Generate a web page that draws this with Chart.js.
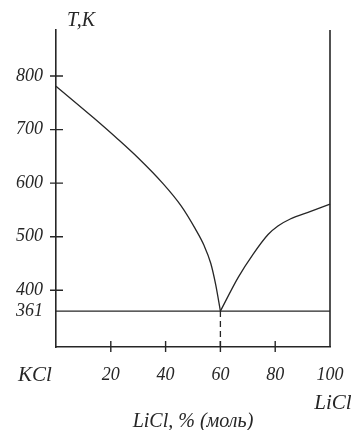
<!DOCTYPE html>
<html>
<head>
<meta charset="utf-8">
<script src="https://cdn.jsdelivr.net/npm/chart.js@4/dist/chart.umd.min.js"></script>
<style>
  html, body { margin: 0; padding: 0; background: #fff; }
  #wrap { width: 351px; height: 430px; position: relative; }
</style>
</head>
<body>
<div id="wrap"><canvas id="phaseChart"></canvas></div>
<script>
// KCl - LiCl phase diagram
const kclBranchX = [0, 13.7, 22.6, 30.2, 38.9, 45.6, 50.8, 54, 56.5, 58.3, 60];
const kclBranchT = [781, 722, 682, 646, 600, 558, 515, 484, 450, 410, 361];
const liclBranchX = [60, 66.5, 71.9, 77.4, 81, 85.5, 92.7, 100];
const liclBranchT = [361, 424, 467, 504, 520, 533, 547, 561];
const eutecticX = 60;
const eutecticT = 361;
const yTicks = [361, 400, 500, 600, 700, 800];
const xTicks = [20, 40, 60, 80, 100];

const tMin = 294;
const tMax = 886;
const ink = '#262626';
const serif = "'Liberation Serif', 'DejaVu Serif', serif";

function toPoints(xs, ys) {
  return xs.map((v, i) => ({ x: v, y: ys[i] }));
}

// tick marks crossing the axes + loose labels
const decor = {
  id: 'decor',
  afterDraw(chart) {
    const { ctx, scales: { x, y } } = chart;
    ctx.save();
    ctx.strokeStyle = ink;
    ctx.lineWidth = 1.4;
    ctx.beginPath();
    yTicks.forEach(v => {
      if (v === eutecticT) return;
      const py = y.getPixelForValue(v);
      ctx.moveTo(x.left - 6, py);
      ctx.lineTo(x.left + 7, py);
    });
    xTicks.forEach(v => {
      if (v === 100) return;
      const px = x.getPixelForValue(v);
      ctx.moveTo(px, y.bottom - 6);
      ctx.lineTo(px, y.bottom + 5);
    });
    ctx.stroke();

    ctx.fillStyle = ink;
    ctx.textBaseline = 'middle';
    ctx.font = 'italic 21px ' + serif;
    ctx.textAlign = 'center';
    ctx.fillText('KCl', x.left - 21, y.bottom + 28);
    ctx.fillText('LiCl', x.right + 3, y.bottom + 56);
    ctx.font = 'italic 20px ' + serif;
    ctx.textAlign = 'left';
    ctx.fillText('T,K', x.left + 11, y.top - 9);
    ctx.restore();
  }
};

const lineStyle = {
  borderColor: ink,
  borderWidth: 1.3,
  pointRadius: 0,
  fill: false,
  clip: false
};

const config = {
  type: 'line',
  data: {
    datasets: [
      Object.assign({ label: 'KCl liquidus', data: toPoints(kclBranchX, kclBranchT), cubicInterpolationMode: 'monotone' }, lineStyle),
      Object.assign({ label: 'LiCl liquidus', data: toPoints(liclBranchX, liclBranchT), cubicInterpolationMode: 'monotone' }, lineStyle),
      Object.assign({ label: 'Solidus', data: [{ x: 0, y: eutecticT }, { x: 100, y: eutecticT }] }, lineStyle),
      Object.assign({ label: 'Eutectic', data: [{ x: eutecticX, y: eutecticT }, { x: eutecticX, y: tMin }], borderDash: [6, 4] }, lineStyle),
      Object.assign({ label: 'LiCl axis', data: [{ x: 100, y: tMin }, { x: 100, y: tMax }] }, lineStyle, { borderWidth: 1.6 })
    ]
  },
  options: {
    responsive: true,
    maintainAspectRatio: false,
    animation: false,
    layout: { padding: { top: 30, right: 21, left: 0, bottom: 0 } },
    plugins: {
      legend: { display: false },
      tooltip: { enabled: false }
    },
    scales: {
      x: {
        type: 'linear',
        min: 0,
        max: 100,
        afterBuildTicks: scale => { scale.ticks = xTicks.map(v => ({ value: v })); },
        afterFit: scale => {
          scale.height = 83;
          scale.paddingLeft = 0;
          scale.paddingRight = 0;
        },
        grid: { display: false, drawTicks: false },
        border: { display: true, color: ink, width: 1.6 },
        ticks: {
          color: ink,
          padding: 17,
          maxRotation: 0,
          font: { family: serif, style: 'italic', size: 18 },
          callback: v => String(v)
        },
        title: {
          display: true,
          text: 'LiCl, % (моль)',
          color: ink,
          font: { family: serif, style: 'italic', size: 20, lineHeight: 0.8 },
          padding: { top: 0, bottom: 0 }
        }
      },
      y: {
        type: 'linear',
        min: tMin,
        max: tMax,
        afterBuildTicks: scale => { scale.ticks = yTicks.map(v => ({ value: v })); },
        afterFit: scale => { scale.width = 56; },
        grid: { display: false, drawTicks: false },
        border: { display: true, color: ink, width: 1.6 },
        ticks: {
          color: ink,
          padding: 13,
          font: { family: serif, style: 'italic', size: 18 },
          callback: v => String(v)
        }
      }
    }
  },
  plugins: [decor]
};

document.addEventListener('DOMContentLoaded', function() {
  const ctx = document.getElementById('phaseChart').getContext('2d');
  new Chart(ctx, config);
});
</script>
</body>
</html>
